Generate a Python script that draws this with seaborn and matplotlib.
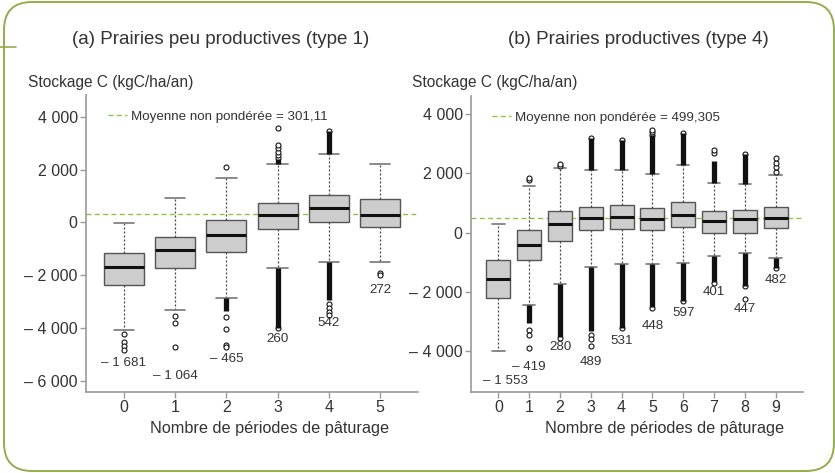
import numpy as np
import matplotlib
matplotlib.use("Agg")
import matplotlib.pyplot as plt
import seaborn as sns
from matplotlib.lines import Line2D
from matplotlib.patches import FancyBboxPatch
from matplotlib.transforms import IdentityTransform

# ---------------- data ----------------
# (a) low-productivity grasslands (type 1)
periods_a = [0, 1, 2, 3, 4, 5]
median_a = [-1681, -1064, -465, 260, 542, 272]
q1_a = [-2390, -1720, -1110, -240, 10, -170]
q3_a = [-1150, -570, 90, 740, 1030, 870]
whislo_a = [-4080, -3330, -2880, -1720, -1520, -1520]
whishi_a = [-40, 910, 1690, 2200, 2570, 2190]
fliers_a = [
    [-4240, -4550, -4700, -4840],
    [-3560, -3815, -4710],
    [2080, -3600, -4050, -4660, -4720],
    [2420, 2540, 2670, 2800, 2930, 3560, -4020],
    [3470, -3100, -3250, -3400, -3520],
    [-1930, -2000],
]
# runs of overlapping outliers (from, to)
dense_a = [
    [],
    [],
    [(-2880, -3350)],
    [(2200, 2400), (-1720, -4000)],
    [(2570, 3450), (-1520, -2950)],
    [],
]
mean_a = 301.11

# (b) productive grasslands (type 4)
periods_b = [0, 1, 2, 3, 4, 5, 6, 7, 8, 9]
median_b = [-1553, -419, 280, 489, 531, 448, 597, 401, 447, 482]
q1_b = [-2210, -940, -280, 90, 115, 70, 180, -20, 0, 145]
q3_b = [-920, 70, 710, 875, 930, 820, 1020, 730, 765, 875]
whislo_b = [-4000, -2455, -1725, -1165, -1050, -1050, -1030, -805, -695, -860]
whishi_b = [290, 1580, 2190, 2110, 2110, 1960, 2280, 1660, 1630, 1940]
fliers_b = [
    [],
    [1770, 1830, -3270, -3440, -3870],
    [2250, 2300, -3550],
    [3175, -3450, -3600, -3810],
    [3120, -3215],
    [3290, 3370, 3450, -2545],
    [3340, -2320],
    [2670, 2780, -1700],
    [2650, -1815, -2230],
    [2050, 2220, 2330, 2500, -1200],
]
dense_b = [
    [],
    [(-2455, -3050)],
    [(-1725, -3500)],
    [(2110, 3175), (-1165, -3300)],
    [(2110, 3120), (-1050, -3200)],
    [(1960, 3290), (-1050, -2500)],
    [(2280, 3340), (-1030, -2300)],
    [(1660, 2400), (-805, -1650)],
    [(1630, 2650), (-695, -1800)],
    [(-860, -1200)],
]
mean_b = 499.305

yticks_a = [-6000, -4000, -2000, 0, 2000, 4000]
yticks_b = [-4000, -2000, 0, 2000, 4000]

title_a = "(a) Prairies peu productives (type 1)"
title_b = "(b) Prairies productives (type 4)"
ylabel = "Stockage C (kgC/ha/an)"
xlabel = "Nombre de périodes de pâturage"

# ---------------- style ----------------
sns.set_theme(style="ticks")
plt.rcParams["font.family"] = ["Liberation Sans", "DejaVu Sans"]
TXT = "#333333"
GREEN = "#8cc63f"
FRAME = "#95ad48"
AXC = "#9a9a9a"

W, H, DPI = 835, 473, 100
fig = plt.figure(figsize=(W / DPI, H / DPI), dpi=DPI)
fig.patch.set_facecolor("white")


def fmt(v):
    s = f"{abs(int(round(v))):,}".replace(",", " ")
    return ("– " + s) if v < 0 else s


def panel(rect, periods, med, q1, q3, lo, hi, fliers, dense, mean, yticks,
          ylim, xlim, drops, dxs, leg_x):
    ax = fig.add_axes(rect)
    stats = []
    for i in range(len(periods)):
        stats.append(dict(med=med[i], q1=q1[i], q3=q3[i], whislo=lo[i],
                          whishi=hi[i], fliers=fliers[i]))
    ax.bxp(stats, positions=periods, widths=0.78, patch_artist=True,
           capwidths=0.4, manage_ticks=False,
           boxprops=dict(facecolor="#cdcdcd", edgecolor="#555555", linewidth=1.0),
           medianprops=dict(color="#111111", linewidth=2.2),
           whiskerprops=dict(color="#444444", linewidth=0.9, linestyle=(0, (1.6, 1.6))),
           capprops=dict(color="#777777", linewidth=1.2),
           flierprops=dict(marker="o", markersize=3.6, markerfacecolor="white",
                           markeredgecolor="#111111", markeredgewidth=0.8))
    for x, runs in zip(periods, dense):
        for a, b in runs:
            ax.vlines(x, a, b, color="#111111", linewidth=3.8, zorder=3)
    ax.axhline(mean, color=GREEN, linewidth=1.0, linestyle=(0, (3.5, 2.5)),
               zorder=1, label=f"Moyenne non pondérée = {str(mean).replace('.', ',')}")
    # value labels under each box
    for i, x in enumerate(periods):
        pts = [lo[i]] + list(fliers[i]) + [v for r in dense[i] for v in r]
        low = min(pts)
        ax.annotate(fmt(med[i]), xy=(x, low), xytext=(dxs[i], -drops[i]),
                    textcoords="offset pixels", ha="center", va="center",
                    fontsize=9.6, color=TXT)
    ax.set_xlim(*xlim)
    ax.set_ylim(*ylim)
    ax.set_xticks(periods)
    ax.set_xticklabels([str(p) for p in periods])
    ax.set_yticks(yticks)
    ax.set_yticklabels([fmt(v) for v in yticks])
    ax.tick_params(axis="both", colors=AXC, labelcolor=TXT, labelsize=11.5,
                   length=4, width=1, pad=2)
    for s in ("top", "right"):
        ax.spines[s].set_visible(False)
    for s in ("left", "bottom"):
        ax.spines[s].set_color(AXC)
        ax.spines[s].set_linewidth(1.2)
    ax.set_facecolor("white")
    ax.grid(False)
    ax.legend(loc="center left", bbox_to_anchor=(leg_x, 0.926), frameon=False,
              fontsize=9.6, handlelength=1.4, handletextpad=0.3, borderpad=0,
              borderaxespad=0, labelcolor=TXT)
    return ax


def fx(px):
    return px / W


def fy(py):
    return 1 - py / H


panel([fx(86), fy(392), fx(418 - 86), (392 - 95) / H], periods_a, median_a,
      q1_a, q3_a, whislo_a, whishi_a, fliers_a, dense_a, mean_a, yticks_a,
      (-6428, 4822), (-0.74, 5.74), [13, 29, 12, 11, 8, 15], [0] * 6,
      (108 - 86) / 332)
panel([fx(471), fy(392), fx(803 - 471), (392 - 96) / H], periods_b, median_b,
      q1_b, q3_b, whislo_b, whishi_b, fliers_b, dense_b, mean_b, yticks_b,
      (-5368, 4598), (-0.89, 9.89), [30, 19, 9, 16, 13, 18, 12, 9, 10, 12],
      [7, 0, 0, 0, 0, 0, 0, 0, 0, 0], (492 - 471) / 332)

# titles and axis captions
fig.text(fx(221), fy(39), title_a, ha="center", va="center", fontsize=13.5, color=TXT)
fig.text(fx(638), fy(39), title_b, ha="center", va="center", fontsize=13.5, color=TXT)
fig.text(fx(28), fy(83), ylabel, ha="left", va="center", fontsize=11.2, color=TXT)
fig.text(fx(412), fy(83), ylabel, ha="left", va="center", fontsize=11.2, color=TXT)
fig.text(fx(270), fy(429), xlabel, ha="center", va="center", fontsize=11.7, color=TXT)
fig.text(fx(665), fy(429), xlabel, ha="center", va="center", fontsize=11.7, color=TXT)

# rounded frame around the figure
frame = FancyBboxPatch((4, 2), 830, 469, boxstyle="round,pad=0,rounding_size=28",
                       transform=IdentityTransform(), facecolor="none",
                       edgecolor=FRAME, linewidth=1.4)
fig.add_artist(frame)
fig.add_artist(Line2D([0, 16], [H - 47, H - 47], transform=IdentityTransform(),
                      color=FRAME, linewidth=1.2))

fig.savefig("out.png", dpi=DPI)
